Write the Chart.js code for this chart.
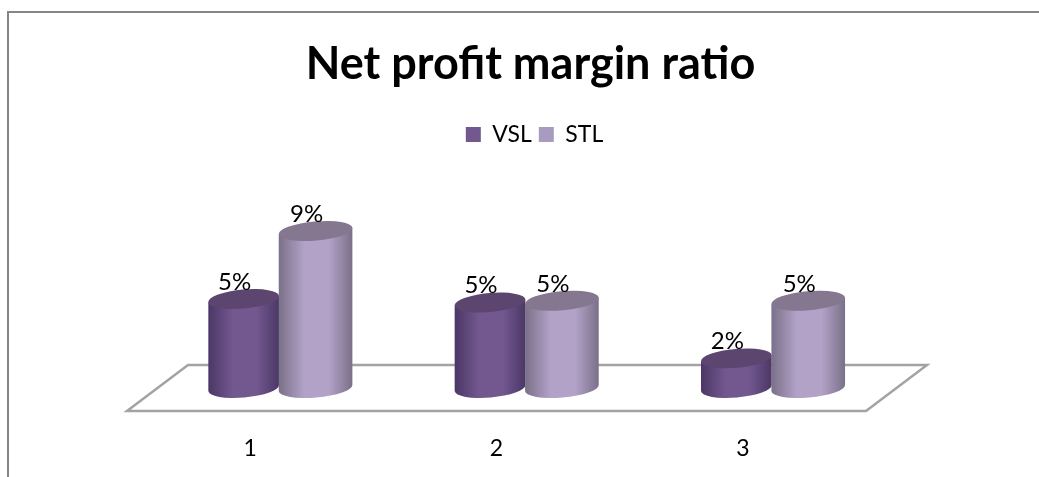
<!DOCTYPE html>
<html>
<head>
<meta charset="utf-8">
<script src="https://cdn.jsdelivr.net/npm/chart.js@4/dist/chart.umd.min.js"></script>
<style>
    html, body { margin: 0; padding: 0; background: #fff; overflow: hidden; }
    #frame {
        position: absolute;
        left: 7px;
        top: 11px;
        width: 1032px;
        height: 466px;
        box-sizing: border-box;
        border-top: 2px solid #868686;
        border-left: 2px solid #868686;
    }
    #chartBox { position: relative; width: 1030px; height: 464px; }
</style>
</head>
<body>
<div id="frame"><div id="chartBox"><canvas id="profitChart"></canvas></div></div>
<script>
const categories = ['1', '2', '3'];
const vslValues = [5.1, 4.9, 1.7];
const stlValues = [9.0, 5.0, 5.0];

// Shades for each series: side edges, side highlight, top cap
const vslShades = ['#4b3766', '#72588f', '#5c4670'];
const stlShades = ['#7a7088', '#b3a2c8', '#857790'];

// Bars are real Chart.js elements, only the painting is left to the plugin below
class CylinderController extends Chart.BarController {
    draw() {}
}
CylinderController.id = 'cylinder';
CylinderController.defaults = Chart.BarController.defaults;
CylinderController.overrides = Chart.BarController.overrides;
Chart.register(CylinderController);

function drawCylinder(ctx, x, top, base, width, shades) {
    const rx = width / 2;
    const ry = 9.5;
    const tilt = -5 * Math.PI / 180;
    const sideX = rx * Math.cos(tilt);
    const sideY = rx * Math.sin(tilt);

    const side = ctx.createLinearGradient(x - rx, 0, x + rx, 0);
    side.addColorStop(0, shades[0]);
    side.addColorStop(0.35, shades[1]);
    side.addColorStop(0.68, shades[1]);
    side.addColorStop(1, shades[0]);

    ctx.beginPath();
    ctx.moveTo(x - sideX, top - sideY);
    ctx.lineTo(x - sideX, base - sideY);
    ctx.ellipse(x, base, rx, ry, tilt, Math.PI, 0, true);
    ctx.lineTo(x + sideX, top + sideY);
    ctx.closePath();
    ctx.fillStyle = side;
    ctx.fill();

    ctx.beginPath();
    ctx.ellipse(x, top, rx, ry, tilt, 0, Math.PI * 2);
    ctx.fillStyle = shades[2];
    ctx.fill();
}

const cylinderPlugin = {
    id: 'cylinders',
    afterLayout(chart) {
        // Title and legend are not centred on the plot in the original
        chart.titleBlock.left += 34;
        chart.titleBlock.right += 34;
        chart.legend.left += 38;
        chart.legend.right += 38;
    },
    beforeDatasetsDraw(chart) {
        const ctx = chart.ctx;
        const area = chart.chartArea;
        const depthX = 61;
        const halfDepthY = 23;

        // Floor of the 3D plot
        ctx.save();
        ctx.beginPath();
        ctx.moveTo(area.left, area.bottom + halfDepthY);
        ctx.lineTo(area.right, area.bottom + halfDepthY);
        ctx.lineTo(area.right + depthX, area.bottom - halfDepthY);
        ctx.lineTo(area.left + depthX, area.bottom - halfDepthY);
        ctx.closePath();
        ctx.strokeStyle = '#a3a3a3';
        ctx.lineWidth = 2.5;
        ctx.stroke();

        const shift = depthX * 0.45;
        chart.data.datasets.forEach((dataset, i) => {
            chart.getDatasetMeta(i).data.forEach((bar, j) => {
                drawCylinder(ctx, bar.x + shift + dataset.nudge, bar.y, bar.base, bar.width, dataset.shades);
            });
        });

        // Value labels sit up and to the left of each cap
        ctx.fillStyle = '#000';
        ctx.font = '24px Lato';
        ctx.textAlign = 'center';
        ctx.textBaseline = 'middle';
        chart.data.datasets.forEach((dataset, i) => {
            chart.getDatasetMeta(i).data.forEach((bar, j) => {
                ctx.fillText(Math.round(dataset.data[j]) + '%', bar.x + shift + dataset.nudge - 9, bar.y - 17);
            });
        });
        ctx.restore();
    }
};

new Chart(document.getElementById('profitChart'), {
    type: 'cylinder',
    data: {
        labels: categories,
        datasets: [
            {
                label: 'VSL',
                data: vslValues,
                backgroundColor: '#72588f',
                shades: vslShades,
                nudge: 3,
                barPercentage: 0.96
            },
            {
                label: 'STL',
                data: stlValues,
                backgroundColor: '#a99bbf',
                shades: stlShades,
                nudge: 1
            }
        ]
    },
    options: {
        responsive: true,
        maintainAspectRatio: false,
        animation: false,
        events: [],
        layout: {
            padding: { left: 118, right: 173, bottom: 0 }
        },
        categoryPercentage: 0.6,
        barPercentage: 1,
        plugins: {
            title: {
                display: true,
                text: 'Net profit margin ratio',
                color: '#000',
                font: { family: 'Lato', size: 45, weight: 'bold' },
                padding: { top: 24, bottom: 25 }
            },
            legend: {
                position: 'top',
                labels: {
                    color: '#000',
                    font: { family: 'Lato', size: 23 },
                    boxWidth: 15,
                    boxHeight: 15,
                    padding: 7
                }
            },
            tooltip: { enabled: false }
        },
        scales: {
            y: {
                display: false,
                min: 0,
                max: 13.3
            },
            x: {
                grid: { display: false },
                border: { display: false },
                afterFit(scale) {
                    scale.height = 89;
                },
                ticks: {
                    color: '#000',
                    padding: 39,
                    font: { family: 'Lato', size: 23 }
                }
            }
        }
    },
    plugins: [cylinderPlugin]
});
</script>
</body>
</html>
